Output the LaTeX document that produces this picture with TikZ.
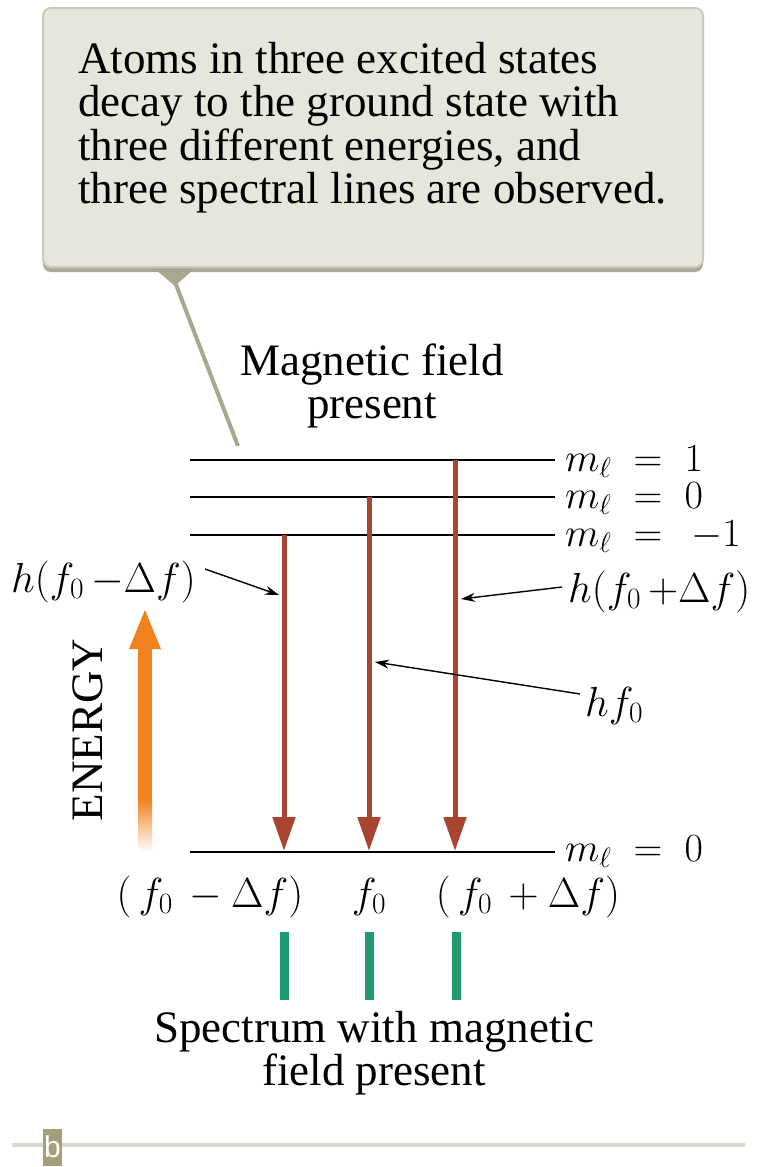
\RequirePackage{fix-cm}
\documentclass[tikz,border=0pt]{standalone}
\usepackage{fontspec}
\setmainfont{Liberation Serif}
\setsansfont{Liberation Sans}
\usetikzlibrary{arrows.meta}
\definecolor{boxfill}{HTML}{E6E6DC}
\definecolor{boxline}{HTML}{CACABC}
\definecolor{boxshadow}{HTML}{A9A996}
\definecolor{pointer}{HTML}{A8A88E}
\definecolor{decay}{HTML}{A8442F}
\definecolor{energy}{HTML}{F1811F}
\definecolor{spec}{HTML}{1E9A6C}
\definecolor{rule}{HTML}{D9D9D0}
\definecolor{tag}{HTML}{A59F78}
\begin{document}
\begin{tikzpicture}[x=1pt,y=-1pt,
  txt/.style={font=\fontsize{45}{43.5}\selectfont, inner sep=0pt},
  mth/.style={font=\fontsize{40}{40}\selectfont, inner sep=0pt},
  level/.style={line width=1.6pt, black},
  decayarrow/.style={line width=5pt, decay, -{Triangle[length=34pt,width=22pt]}},
  labarrow/.style={line width=1.4pt, black, -{Stealth[length=14pt,width=9pt]}},
  specline/.style={line width=9pt, spec}]
\useasboundingbox (0,0) rectangle (768,1167);
\fill[white] (0,0) rectangle (768,1167);
% callout
\fill[boxshadow, rounded corners=8pt] (43,12) rectangle (703,272);
\draw[boxline, fill=boxfill, line width=2pt, rounded corners=8pt] (43,8) rectangle (703,267);
\node[txt, anchor=north west, align=left] (callout) at (78,42)
  {Atoms in three excited states\\ decay to the ground state with\\ three different energies, and\\ three spectral lines are observed.};
\fill[pointer] (155,269) -- (194,269) -- (175,286) -- cycle;
\coordinate (ptip) at (238,446);
\draw[pointer, line width=4pt] (175,282) -- (ptip);
% title
\node[txt, align=center] (title) at (372,386) {Magnetic field\\ present};
% levels
\coordinate (L1a) at (190,460); \coordinate (L1b) at (555,460);
\coordinate (L2a) at (190,497); \coordinate (L2b) at (555,497);
\coordinate (L3a) at (190,535); \coordinate (L3b) at (555,535);
\coordinate (Ga) at (190,852); \coordinate (Gb) at (555,852);
\draw[level] (L1a) -- (L1b);
\draw[level] (L2a) -- (L2b);
\draw[level] (L3a) -- (L3b);
\draw[level] (Ga) -- (Gb);
\node[mth, anchor=west] (m1) at (565,462) {$m_\ell\;=\;1$};
\node[mth, anchor=west] (m0) at (565,499) {$m_\ell\;=\;0$};
\node[mth, anchor=west] (mm1) at (565,537) {$m_\ell\;=\;\,{-1}$};
\node[mth, anchor=west] (mg) at (565,852) {$m_\ell\;=\;0$};
% decay arrows
\coordinate (A1) at (284,535); \coordinate (A1e) at (284,851);
\coordinate (A2) at (369,497); \coordinate (A2e) at (369,851);
\coordinate (A3) at (455,460); \coordinate (A3e) at (455,851);
\draw[decayarrow] (A1) -- (A1e);
\draw[decayarrow] (A2) -- (A2e);
\draw[decayarrow] (A3) -- (A3e);
% energy labels
\node[mth, anchor=west, font=\fontsize{42}{42}\selectfont] (hm) at (11,582) {$h(f_0\,{-}\Delta f)$};
\node[mth, anchor=west, font=\fontsize{42}{42}\selectfont] (hp) at (568,592) {$h(f_0\,{+}\Delta f)$};
\node[mth, anchor=west, font=\fontsize{42}{42}\selectfont] (h0) at (585,706) {$hf_0$};
\coordinate (hmT) at (279,595);
\coordinate (hpT) at (461,599);
\coordinate (h0T) at (375,662);
\draw[labarrow] (205,569) -- (hmT);
\draw[labarrow] (562,587) -- (hpT);
\draw[labarrow] (580,694) -- (h0T);
% energy arrow
\fill[energy] (138,640) rectangle (152,800);
\shade[top color=energy, bottom color=white] (138,799) rectangle (152,852);
\fill[energy] (145,610) -- (161,649) -- (129,649) -- cycle;
\node[txt, rotate=90] (en) at (88,730) {ENERGY};
% frequencies
\node[mth, font=\fontsize{42}{42}\selectfont] (fm) at (210,897) {$(\,f_0\,-\Delta f)$};
\node[mth, font=\fontsize{42}{42}\selectfont] (f0) at (369,897) {$f_0$};
\node[mth, font=\fontsize{42}{42}\selectfont] (fp) at (528,897) {$(\,f_0\,+\Delta f)$};
% spectrum
\coordinate (S1a) at (284,932); \coordinate (S1b) at (284,1000);
\coordinate (S2a) at (369,932); \coordinate (S2b) at (369,1000);
\coordinate (S3a) at (456,932); \coordinate (S3b) at (456,1000);
\draw[specline] (S1a) -- (S1b);
\draw[specline] (S2a) -- (S2b);
\draw[specline] (S3a) -- (S3b);
\node[txt, align=center] (spectrum) at (374,1053) {Spectrum with magnetic\\ field present};
% bottom rule and tag
\draw[rule, line width=4pt] (12,1145) -- (745,1145);
\node[fill=tag, minimum width=19pt, minimum height=37pt, inner sep=0pt, text=white,
  font=\sffamily\fontsize{30}{30}\selectfont] (tagb) at (52.5,1147) {b};
\end{tikzpicture}
\end{document}
